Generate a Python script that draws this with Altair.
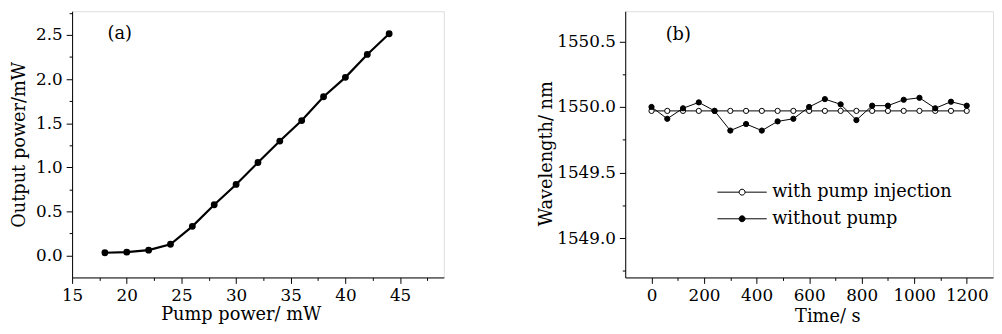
import altair as alt
import pandas as pd

# ---------------- data ----------------
pump_power = [18, 20, 22, 24, 26, 28, 30, 32, 34, 36, 38, 40, 42, 44]
output_power = [0.03, 0.037, 0.06, 0.127, 0.33, 0.575, 0.805, 1.054, 1.297,
                1.53, 1.80, 2.02, 2.28, 2.515]

time_s = [0, 60, 120, 180, 240, 300, 360, 420, 480, 540, 600, 660, 720,
          780, 840, 900, 960, 1020, 1080, 1140, 1200]
with_pump = [1549.97, 1549.97, 1549.97, 1549.97, 1549.97, 1549.97, 1549.97,
             1549.97, 1549.97, 1549.97, 1549.97, 1549.97, 1549.97, 1549.97,
             1549.97, 1549.97, 1549.97, 1549.97, 1549.97, 1549.97, 1549.97]
without_pump = [1550.00, 1549.91, 1549.99, 1550.035, 1549.97, 1549.82, 1549.87,
                1549.82, 1549.89, 1549.91, 1550.00, 1550.06, 1550.02, 1549.90,
                1550.01, 1550.01, 1550.055, 1550.07, 1549.99, 1550.04, 1550.01]
series_names = ["with pump injection", "without pump"]

xa_major = [15, 20, 25, 30, 35, 40, 45]
xa_minor = [17.5, 22.5, 27.5, 32.5, 37.5, 42.5, 47.5]
ya_major = [0.0, 0.5, 1.0, 1.5, 2.0, 2.5]
ya_minor = [0.25, 0.75, 1.25, 1.75, 2.25, 2.75]
xb_major = [0, 200, 400, 600, 800, 1000, 1200]
xb_minor = [100, 300, 500, 700, 900, 1100]
yb_major = [1549.0, 1549.5, 1550.0, 1550.5]
yb_minor = [1548.75, 1549.25, 1549.75, 1550.25]

df_a = pd.DataFrame({"pump": pump_power, "out": output_power})
df_b = pd.concat([
    pd.DataFrame({"time": time_s, "wl": with_pump, "series": series_names[0]}),
    pd.DataFrame({"time": time_s, "wl": without_pump, "series": series_names[1]}),
], ignore_index=True)

FONT = "DejaVu Serif"
LFS = 17   # tick labels
TFS = 18   # titles


def major_axis(orient, values, fmt, title, **kw):
    return alt.Axis(orient=orient, values=values, format=fmt, title=title, grid=False,
                    domainColor="black", domainWidth=1, tickColor="black", tickWidth=1,
                    tickSize=6, labelFont=FONT, labelFontSize=LFS, labelColor="black",
                    labelPadding=4, labelFlush=False, labelOverlap=False,
                    titleFont=FONT, titleFontSize=TFS, titleFontWeight="normal",
                    titleColor="black", **kw)


def minor_axis(orient, values):
    return alt.Axis(orient=orient, values=values, labels=False, domain=False, title=None,
                    grid=False, tickColor="black", tickSize=3, tickWidth=1)


def panel_title(text, dx, offset):
    return alt.TitleParams(text, anchor="start", frame="group", orient="top", offset=offset,
                           baseline="alphabetic", dx=dx, font=FONT, fontSize=TFS,
                           fontWeight="normal", color="black")


# ---------------- panel (a) ----------------
xa = alt.Scale(domain=[15, 49], nice=False, zero=False)
ya = alt.Scale(domain=[-0.25, 2.77], nice=False, zero=False)
base_a = alt.Chart(df_a)
line_a = base_a.mark_line(color="black", strokeWidth=2.2).encode(
    x=alt.X("pump:Q", scale=xa,
            axis=major_axis("bottom", xa_major, "d", "Pump power/ mW", titleX=171, titleY=29)),
    y=alt.Y("out:Q", scale=ya,
            axis=major_axis("left", ya_major, ".1f", "Output power/mW",
                            titleX=-44, titleBaseline="bottom")),
)
pts_a = base_a.mark_circle(color="black", size=48, opacity=1).encode(
    x=alt.X("pump:Q", scale=xa, axis=None),
    y=alt.Y("out:Q", scale=ya, axis=None),
)
minor_a = base_a.mark_point(opacity=0).encode(
    x=alt.X("pump:Q", scale=xa, axis=minor_axis("bottom", xa_minor)),
    y=alt.Y("out:Q", scale=ya, axis=minor_axis("left", ya_minor)),
)
chart_a = alt.layer(line_a, pts_a, minor_a).resolve_axis(
    x="independent", y="independent"
).properties(width=377, height=270, title=panel_title("(a)", 36, -46))

# ---------------- panel (b) ----------------
xb = alt.Scale(domain=[-100, 1300], nice=False, zero=False)
yb = alt.Scale(domain=[1548.7, 1550.73], nice=False, zero=False)
base_b = alt.Chart(df_b)
line_b = base_b.mark_line(color="black", strokeWidth=1).encode(
    x=alt.X("time:Q", scale=xb,
            axis=major_axis("bottom", xb_major, "d", "Time/ s", titleX=205, titleY=31)),
    y=alt.Y("wl:Q", scale=yb,
            axis=major_axis("left", yb_major, ".1f", "Wavelength/ nm",
                            titleX=-71, titleY=144, titleBaseline="bottom")),
    detail="series:N",
)
LEG_PATH = ("M-2.5,0H-0.3M0.3,0H2.5"
            "M-0.3,0A0.3,0.3 0 1,0 0.3,0A0.3,0.3 0 1,0 -0.3,0")
pts_b = base_b.mark_point(shape="circle", filled=True, stroke="black", strokeWidth=1,
                          size=28, opacity=1).encode(
    x=alt.X("time:Q", scale=xb, axis=None),
    y=alt.Y("wl:Q", scale=yb, axis=None),
    fill=alt.Fill("series:N", sort=series_names,
                  scale=alt.Scale(domain=series_names, range=["white", "black"]),
                  legend=alt.Legend(title=None, orient="none", legendX=108, legendY=173,
                                    symbolType=LEG_PATH, symbolSize=400,
                                    symbolStrokeColor="black", symbolStrokeWidth=1,
                                    symbolOffset=0, labelOffset=20, labelFont=FONT,
                                    labelFontSize=TFS, labelColor="black", labelLimit=400,
                                    rowPadding=7, padding=0, direction="vertical")),
)
minor_b = base_b.mark_point(opacity=0).encode(
    x=alt.X("time:Q", scale=xb, axis=minor_axis("bottom", xb_minor)),
    y=alt.Y("wl:Q", scale=yb, axis=minor_axis("left", yb_minor)),
)
chart_b = alt.layer(line_b, pts_b, minor_b).resolve_axis(
    x="independent", y="independent"
).properties(width=373, height=270, title=panel_title("(b)", 41, -47))

chart = alt.hconcat(chart_a, chart_b, spacing=93).resolve_legend(
    fill="independent"
).properties(
    padding={"left": 2, "top": 0, "right": 0, "bottom": 0}
).configure_view(stroke=None).configure(background="white")

chart.save("out.html", embed_options={"renderer": "svg", "actions": False})
